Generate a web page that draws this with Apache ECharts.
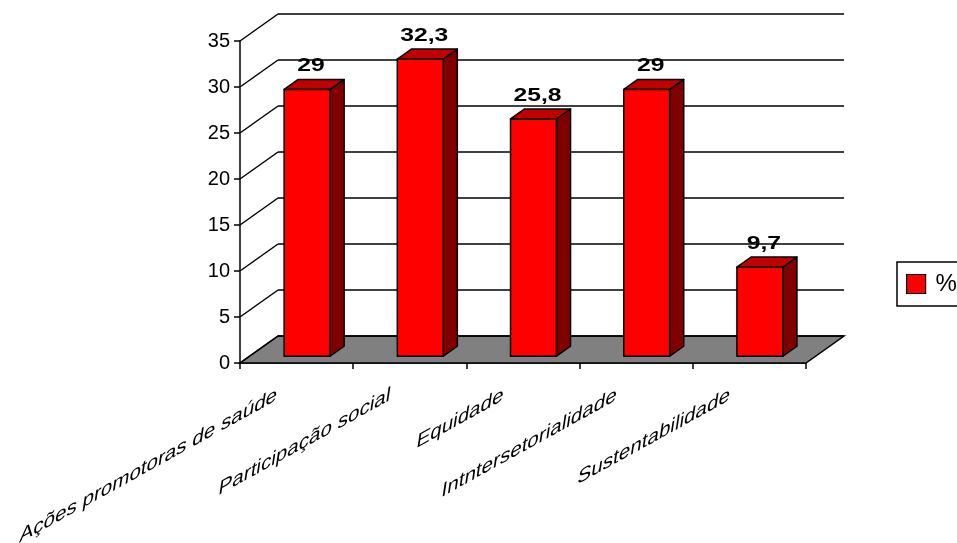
<!DOCTYPE html>
<html><head><meta charset="utf-8">
<script src="https://cdn.jsdelivr.net/npm/echarts@6/dist/echarts.min.js"></script>
<style>html,body{margin:0;padding:0;background:#fff}#c{width:957px;height:543px}</style>
</head><body><div id="c"></div>
<script>
// ---- data ----
const categories = ['Ações promotoras de saúde', 'Participação social', 'Equidade', 'Intntersetorialidade', 'Sustentabilidade'];
const values = [29, 32.3, 25.8, 29, 9.7];
const valueLabels = ['29', '32,3', '25,8', '29', '9,7'];
const yTicks = [0, 5, 10, 15, 20, 25, 30, 35];
const seriesName = '%';

// ---- 3D look (styling only) ----
const DEPTH = [38, -27];
const F0 = 0.25, F1 = 0.62;
const BAR_W = 0.406;
const FONT = 'Liberation Sans, Arial, sans-serif';

const chart = echarts.init(document.getElementById('c'), null, {renderer: 'canvas'});

function floorItem(params, api) {
  const band = api.size([1, 0])[0];
  const p0 = api.coord([0, 0]);
  const p1 = api.coord([categories.length - 1, 0]);
  const l = p0[0] - band / 2, r = p1[0] + band / 2, y = p0[1];
  return {
    type: 'polygon',
    shape: {points: [[l, y], [r, y], [r + DEPTH[0], y + DEPTH[1]], [l + DEPTH[0], y + DEPTH[1]]]},
    style: {fill: '#808080', stroke: '#000', lineWidth: 1.5}
  };
}

function wallItem(params, api) {
  const v = api.value(1);
  const band = api.size([1, 0])[0];
  const p0 = api.coord([0, v]);
  const p1 = api.coord([categories.length - 1, v]);
  const l = p0[0] - band / 2, r = p1[0] + band / 2, y = p0[1];
  return {
    type: 'group',
    children: [
      {type: 'line', shape: {x1: l, y1: y, x2: l + DEPTH[0], y2: y + DEPTH[1]}, style: {stroke: '#000', lineWidth: 1.5}},
      {type: 'line', shape: {x1: l + DEPTH[0], y1: y + DEPTH[1], x2: r + DEPTH[0], y2: y + DEPTH[1]}, style: {stroke: '#000', lineWidth: 1.5}}
    ]
  };
}

function barItem(params, api) {
  const i = api.value(0), v = api.value(1);
  const band = api.size([1, 0])[0];
  const top = api.coord([i, v]);
  const base = api.coord([i, 0]);
  const w = band * BAR_W;
  const ox = DEPTH[0] * F0 + 1, oy = DEPTH[1] * F0;
  const dx = DEPTH[0] * (F1 - F0), dy = DEPTH[1] * (F1 - F0);
  const x0 = top[0] + ox - w / 2, x1 = x0 + w;
  const yt = top[1] + oy, yb = base[1] + oy;
  const st = {stroke: '#000', lineWidth: 1.5, lineJoin: 'round'};
  return {
    type: 'group',
    children: [
      {type: 'polygon', shape: {points: [[x1, yt], [x1 + dx, yt + dy], [x1 + dx, yb + dy], [x1, yb]]}, style: Object.assign({fill: '#800000'}, st)},
      {type: 'polygon', shape: {points: [[x0, yt], [x1, yt], [x1 + dx, yt + dy], [x0 + dx, yt + dy]]}, style: Object.assign({fill: '#c00000'}, st)},
      {type: 'rect', shape: {x: x0, y: yt, width: w, height: yb - yt}, style: Object.assign({fill: '#ff0000'}, st)},
      {type: 'text', x: (x0 + x1) / 2 + 4, y: yt + dy - 4, scaleX: 1.3,
        style: {text: valueLabels[params.dataIndex], x: 0, y: 0, align: 'center', verticalAlign: 'bottom',
          fontSize: 19, fontWeight: 'bold', fontFamily: FONT, fill: '#000'}}
    ]
  };
}

function catLabelItem(params, api) {
  const i = api.value(0);
  const p = api.coord([i, 0]);
  return {
    type: 'text', x: p[0] - 21, y: p[1] + 42,
    skewY: 0.5066, skewX: -0.15,
    style: {text: categories[params.dataIndex], x: 0, y: 0, align: 'right', verticalAlign: 'bottom',
      fontSize: 20.6, fontFamily: FONT, fill: '#000'}
  };
}

const option = {
  animation: false,
  backgroundColor: '#ffffff',
  grid: {left: 240, top: 41, width: 566, height: 322},
  xAxis: {
    type: 'category', data: categories, boundaryGap: true,
    axisLine: {show: true, lineStyle: {color: '#000', width: 1.5}},
    axisTick: {show: true, interval: 0, length: 6, lineStyle: {color: '#000', width: 1.5}},
    axisLabel: {show: false, interval: 0},
    splitLine: {show: false}
  },
  yAxis: {
    type: 'value', min: yTicks[0], max: yTicks[yTicks.length - 1], interval: yTicks[1] - yTicks[0],
    axisLine: {show: true, lineStyle: {color: '#000', width: 1.5}},
    axisTick: {show: true, length: 6, lineStyle: {color: '#000', width: 1.5}},
    axisLabel: {color: '#000', fontSize: 20, fontFamily: FONT, margin: 10},
    splitLine: {show: false}
  },
  legend: {
    data: [seriesName], left: 897, top: 262, orient: 'vertical',
    padding: [10, 14, 10, 9], itemWidth: 19, itemHeight: 19, icon: 'rect',
    borderColor: '#000', borderWidth: 1.5, borderRadius: 0,
    itemStyle: {borderColor: '#000', borderWidth: 1.2},
    textStyle: {fontSize: 24, fontFamily: FONT, color: '#000', padding: [0, 0, 0, 5]}
  },
  series: [
    {name: 'floor', type: 'custom', z: 1, silent: true, renderItem: floorItem, data: [[0, 0]]},
    {name: 'walls', type: 'custom', z: 1, silent: true, renderItem: wallItem, data: yTicks.map(v => [0, v])},
    {name: seriesName, type: 'custom', z: 3, renderItem: barItem, itemStyle: {color: '#ff0000'},
      data: values.map((v, i) => [i, v])},
    {name: 'cats', type: 'custom', z: 4, silent: true, renderItem: catLabelItem, data: categories.map((c, i) => [i, 0])}
  ]
};
chart.setOption(option);
</script></body></html>
